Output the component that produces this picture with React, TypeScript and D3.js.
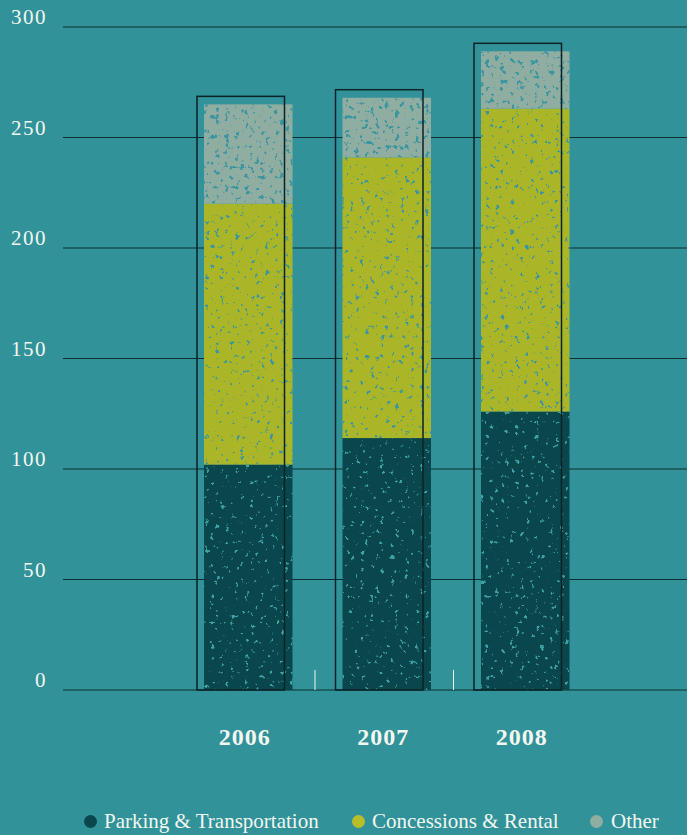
import React from "react";
import * as d3 from "d3";

const years = ["2006", "2007", "2008"];
const parking = [102, 114, 126];
const concessions = [118, 127, 137];
const other = [45, 27, 26];
const yTicks = [0, 50, 100, 150, 200, 250, 300];
const seriesNames = ["Parking & Transportation", "Concessions & Rental", "Other"];

const W = 687;
const H = 835;
const BG = "#319399";
const COLORS = ["#0a474d", "#aab528", "#8fada1"];
const SPECKLE = ["#3fa3a6", "#3b95a0", "#3b95a0"];
const TEXT = "#f3f6f1";
const FONT = "'Liberation Serif', 'DejaVu Serif', serif";

export default function App() {
  const y = d3.scaleLinear().domain([0, 300]).range([690, 27]);
  const x = d3.scaleBand().domain(years).range([176.5, 592]).paddingInner(0).paddingOuter(0);
  const step = x.bandwidth();
  const barOffset = 27.5;
  const barW = 88.5;
  const frameShift = -7;
  const frameW = 87.5;
  const framePad = 8;

  const rows = years.map((yr, i) => ({
    year: yr,
    parking: parking[i],
    concessions: concessions[i],
    other: other[i],
  }));
  const stack = d3.stack<any>().keys(["parking", "concessions", "other"])(rows);

  // noise cut-offs per layer: lower value gives denser speckle
  const thresholds = [-8.1, -8.0, -7.4];

  const legendPos = [
    { cx: 90.5, tx: 104 },
    { cx: 358.5, tx: 372 },
    { cx: 596.5, tx: 611 },
  ];

  return (
    <div style={{ position: "absolute", left: 0, top: 0 }}>
      <svg width={W} height={H} style={{ display: "block" }}>
        <defs>
          {COLORS.map((c, k) => (
            <filter
              key={k}
              id={`grain${k}`}
              x="0"
              y="0"
              width="1"
              height="1"
              colorInterpolationFilters="sRGB"
            >
              <feTurbulence
                type="fractalNoise"
                baseFrequency="0.2"
                numOctaves={3}
                seed={k * 7 + 3}
                result="noise"
              />
              <feColorMatrix
                in="noise"
                type="matrix"
                values={`0 0 0 0 0 0 0 0 0 0 0 0 0 0 0 12 0 0 0 ${thresholds[k]}`}
                result="mask"
              />
              <feFlood floodColor={SPECKLE[k]} result="tone" />
              <feComposite in="tone" in2="mask" operator="in" result="spots" />
              <feComposite in="spots" in2="SourceAlpha" operator="in" result="clipped" />
              <feMerge>
                <feMergeNode in="SourceGraphic" />
                <feMergeNode in="clipped" />
              </feMerge>
            </filter>
          ))}
        </defs>
        <rect x={0} y={0} width={W} height={H} fill={BG} />

        {/* gridlines */}
        {yTicks.map((t) => (
          <g key={t}>
            <line x1={63} x2={W} y1={y(t)} y2={y(t)} stroke="#0c2e31" strokeWidth={1.2} />
            <text
              x={47}
              y={y(t) - 3}
              textAnchor="end"
              fill={TEXT}
              fontFamily={FONT}
              fontSize={21}
              letterSpacing={1.5}
            >
              {t}
            </text>
          </g>
        ))}

        {/* stacked bars */}
        {stack.map((layer, k) => (
          <g key={k} filter={`url(#grain${k})`}>
            {layer.map((d, i) => (
              <rect
                key={i}
                x={(x(years[i]) as number) + barOffset}
                width={barW}
                y={y(d[1])}
                height={y(d[0]) - y(d[1])}
                fill={COLORS[k]}
              />
            ))}
          </g>
        ))}

        {/* offset frames */}
        {years.map((yr, i) => {
          const total = parking[i] + concessions[i] + other[i];
          const x0 = (x(yr) as number) + barOffset + frameShift;
          const top = y(total) - framePad;
          return (
            <rect
              key={yr}
              x={x0}
              y={top}
              width={frameW}
              height={y(0) - top}
              fill="none"
              stroke="#0b2226"
              strokeWidth={1.5}
            />
          );
        })}

        {/* band separators */}
        {years.slice(1).map((yr) => (
          <line
            key={yr}
            x1={x(yr) as number}
            x2={x(yr) as number}
            y1={670}
            y2={690}
            stroke={TEXT}
            strokeWidth={1}
          />
        ))}

        {/* year labels */}
        {years.map((yr) => (
          <text
            key={yr}
            x={(x(yr) as number) + step / 2 - 1}
            y={745}
            textAnchor="middle"
            fill={TEXT}
            fontFamily={FONT}
            fontWeight="bold"
            fontSize={24}
            letterSpacing={1}
          >
            {yr}
          </text>
        ))}

        {/* legend */}
        {legendPos.map((p, k) => (
          <g key={k}>
            <circle cx={p.cx} cy={821.5} r={6.5} fill={k === 1 ? "#b6be2a" : COLORS[k]} />
            <text x={p.tx} y={828} fill={TEXT} fontFamily={FONT} fontSize={21}>
              {seriesNames[k]}
            </text>
          </g>
        ))}
      </svg>
    </div>
  );
}
